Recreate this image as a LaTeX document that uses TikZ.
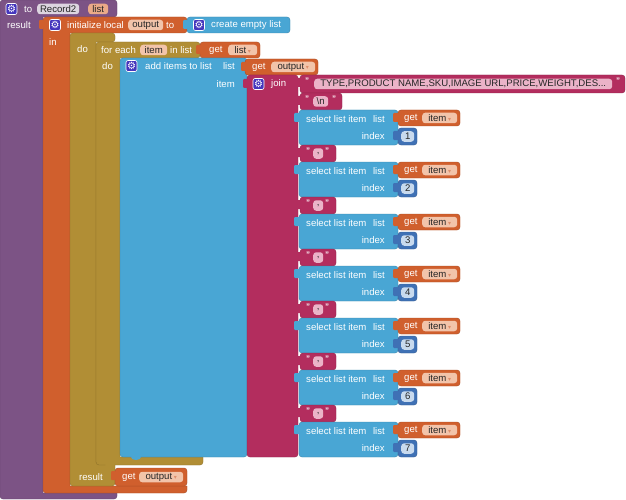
\documentclass[tikz,border=0pt]{standalone}
\usepackage{fontspec}
\setmainfont{Liberation Sans}
\newfontfamily\symfont{DejaVu Sans}
\definecolor{procC}{HTML}{7C5385}
\definecolor{varC}{HTML}{D05F2D}
\definecolor{ctrlC}{HTML}{B18E35}
\definecolor{listC}{HTML}{49A6D4}
\definecolor{textC}{HTML}{B32D5E}
\definecolor{mathC}{HTML}{3F71B5}
\definecolor{gearC}{HTML}{4536BD}
\definecolor{procP}{HTML}{DDD5E0}
\definecolor{parP}{HTML}{EBAA88}
\definecolor{varP}{HTML}{F2C4AA}
\definecolor{textP}{HTML}{EBB3C8}
\definecolor{mathP}{HTML}{C8DAEE}
\newcommand\ddarrow{\,\textcolor{varC!70!white}{\symfont\fontsize{6}{6}\selectfont ▾}}

\begin{document}
\begin{tikzpicture}[x=1pt,y=-1pt,font=\fontsize{9.6}{11}\selectfont,
  blk/.style={fill=#1,draw=#1!80!black,line width=0.4pt,rounded corners=3pt},
  tab/.style={fill=#1,rounded corners=1pt},
  lbl/.style={text=white,inner sep=0pt,anchor=west},
  rlbl/.style={text=white,inner sep=0pt,anchor=east},
  pill/.style={fill=#1,text=black!85,rounded corners=3pt,inner sep=0pt,minimum height=10.5pt,anchor=west},
  gear/.style={fill=gearC,draw=white,line width=0.6pt,rounded corners=2pt,minimum size=11pt,inner sep=0pt,text=white,font=\symfont\fontsize{10}{10}\selectfont},
  quot/.style={text=white,inner sep=0pt,font=\bfseries\fontsize{8}{8}\selectfont}]
  \useasboundingbox (0,0) rectangle (626,500);
  \path[blk=procC] (0,0) -- (117,0) -- (117,17) [sharp corners] -- (43,17) -- (43,493) -- (117,493) [rounded corners=3pt] -- (117,499) -- (0,499) -- cycle;
  \node[gear] (g1) at (11.5,9) {⚙};
  \node[lbl] (to) at (24,9) {to};
  \node[pill=procP,minimum width=42pt] (name) at (37,9) {Record2};
  \node[pill=parP,minimum width=20pt] (par) at (88,9) {list};
  \node[lbl] (res1) at (7,25) {result};

  \path[blk=varC] (43,17) -- (187,17) -- (187,33) [sharp corners] -- (70,33) -- (70,486) -- (187,486) [rounded corners=3pt] -- (187,493) -- (43,493) -- cycle;
  \path[tab=varC] (39,20) rectangle (44,29);
  \node[gear] (g2) at (55,25) {⚙};
  \node[lbl] (init) at (67,25) {initialize local};
  \node[pill=varP,minimum width=35pt] (out1) at (128,25) {output};
  \node[lbl] (to2) at (166,25) {to};
  \node[lbl] (in) at (49,42) {in};

  \path[blk=listC] (187,17) rectangle (290,33);
  \path[tab=listC] (183,20) rectangle (188,29);
  \node[gear] (g3) at (199,25) {⚙};
  \node[lbl] (empty) at (211,25) {create empty list};

  \path[blk=ctrlC] (70,33) -- (115,33) -- (115,42) [sharp corners] -- (96,42) -- (96,462) -- (115,462) [rounded corners=3pt] -- (115,486) -- (70,486) -- cycle;
  \node[lbl] (do1) at (77,49) {do};
  \node[lbl] (res2) at (79,477) {result};

  \path[blk=varC] (115,468) rectangle (187,486);
  \path[tab=varC] (111,471) rectangle (116,480);
  \node[lbl] (get1) at (122,477) {get};
  \node[pill=varP,minimum width=44pt] (out2) at (139,477) {output\ddarrow};

  \path[blk=ctrlC] (96,42) -- (200,42) -- (200,58) [sharp corners] -- (120,58) -- (120,457) -- (203,457) [rounded corners=3pt] -- (203,465) -- (96,465) -- cycle;
  \fill[ctrlC] (110,465) ellipse (5 and 3);
  \node[lbl] (each) at (101,50) {for each};
  \node[pill=varP,minimum width=27pt] (item) at (140,50) {item};
  \node[lbl] (inlist) at (170,50) {in list};
  \node[lbl] (do2) at (102,66) {do};

  \path[blk=varC] (200,42) rectangle (260,58);
  \path[tab=varC] (196,45) rectangle (201,54);
  \node[lbl] (get2) at (209,50) {get};
  \node[pill=varP,minimum width=29pt] (lst) at (228,50) {list\ddarrow};

  \path[blk=listC] (120,58) rectangle (247,457);
  \fill[listC] (136,457) ellipse (5 and 3);
  \node[gear] (g4) at (131.5,66) {⚙};
  \node[lbl] (add) at (145,66) {add items to list};
  \node[rlbl] (addl) at (235,66) {list};
  \node[rlbl] (addi) at (235,84) {item};

  \path[blk=varC] (245,59) rectangle (318,75);
  \path[tab=varC] (241,62) rectangle (246,71);
  \node[lbl] (get3) at (252,67) {get};
  \node[pill=varP,minimum width=44pt] (out3) at (271,67) {output\ddarrow};

  \path[blk=textC] (247,75) rectangle (298,457);
  \path[tab=textC] (243,79) rectangle (248,88);
  \node[gear] (g5) at (258.5,84) {⚙};
  \node[lbl] (join) at (271,84) {join};

  \path[blk=textC] (300,75) rectangle (625,93);
  \path[tab=textC] (295,78) rectangle (301,87);
  \node[quot] (q1) at (307,81) {"};
  \node[quot] (q2) at (618,81) {"};
  \node[pill=textP,minimum width=298pt] (head) at (314,84) {TYPE,PRODUCT NAME,SKU,IMAGE URL,PRICE,WEIGHT,DES...};

  \path[blk=textC] (300,93) rectangle (342,110);
  \path[tab=textC] (295,96) rectangle (301,105);
  \node[quot] (q3) at (307,99) {"};
  \node[quot] (q4) at (334,99) {"};
  \node[pill=textP,minimum width=15pt] (nl) at (313,101.5) {\textbackslash n};

  \foreach \i in {1,...,7}{
    \pgfmathsetmacro\y{110+52*(\i-1)}
    \path[blk=listC] (299,\y) rectangle (398,\y+35);
    \path[tab=listC] (294,\y+3) rectangle (300,\y+12);
    \node[lbl] (sel\i) at (306,\y+9) {select list item};
    \node[rlbl] (sell\i) at (385,\y+9) {list};
    \node[rlbl] (idx\i) at (385,\y+26) {index};
    \path[blk=varC] (398,\y) rectangle (460,\y+16);
    \path[tab=varC] (393,\y+3) rectangle (399,\y+12);
    \node[lbl] (get\i) at (404,\y+8) {get};
    \node[pill=varP,minimum width=35pt] (it\i) at (422,\y+8) {item\ddarrow};
    \path[blk=mathC] (398,\y+18) rectangle (417,\y+35);
    \path[tab=mathC] (393,\y+21) rectangle (399,\y+30);
    \node[pill=mathP,minimum width=13pt] (num\i) at (401,\y+26.5) {\i};
    \ifnum\i<7
      \path[blk=textC] (300,\y+35) rectangle (336,\y+52);
      \path[tab=textC] (295,\y+38) rectangle (301,\y+47);
      \node[quot] (qa\i) at (308,\y+41) {"};
      \node[quot] (qb\i) at (327,\y+41) {"};
      \node[pill=textP,minimum width=10pt] (comma\i) at (313,\y+43.5) {,};
    \fi
  }
\end{tikzpicture}
\end{document}
